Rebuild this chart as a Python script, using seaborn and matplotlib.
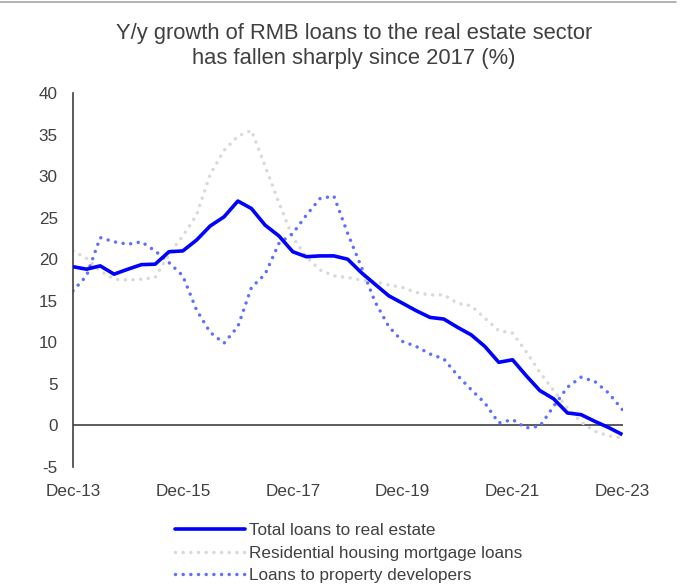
import matplotlib
matplotlib.use("Agg")
import matplotlib.pyplot as plt
import matplotlib.dates as mdates
from matplotlib.lines import Line2D
import pandas as pd
import seaborn as sns

# Quarter-end dates, Dec-2013 to Dec-2023
quarters = pd.date_range("2013-12-31", periods=41, freq="QE")

# Y/y growth (%)
total_loans = [19.1, 18.8, 19.2, 18.2, 18.8, 19.35, 19.4, 20.9, 21.0, 22.3,
               24.0, 25.1, 27.0, 26.1, 24.1, 22.8, 20.9, 20.3, 20.4, 20.4,
               20.0, 18.4, 17.0, 15.6, 14.7, 13.8, 13.0, 12.8, 11.8, 10.9,
               9.5, 7.6, 7.9, 6.0, 4.2, 3.2, 1.5, 1.3, 0.5, -0.25, -1.1]
mortgage_loans = [21.0, 20.1, 18.6, 17.6, 17.5, 17.6, 17.8, 20.6, 22.8, 25.3,
                  30.2, 33.1, 34.8, 35.5, 31.2, 26.8, 22.6, 20.3, 18.7, 18.0,
                  17.8, 17.5, 17.3, 16.9, 16.6, 16.0, 15.7, 15.7, 14.7, 14.4,
                  12.9, 11.4, 11.1, 8.9, 6.4, 4.2, 2.1, 0.4, -0.7, -1.25, -1.5]
developer_loans = [16.2, 18.0, 22.6, 22.1, 21.8, 22.1, 21.0, 19.6, 18.0, 13.9,
                   11.2, 9.9, 11.9, 16.6, 18.2, 21.9, 23.1, 25.3, 27.3, 27.6,
                   23.1, 19.1, 14.9, 11.9, 10.1, 9.5, 8.6, 8.0, 6.0, 4.3,
                   2.7, 0.3, 0.7, -0.3, -0.1, 2.3, 4.6, 5.8, 5.3, 3.9, 1.9]

series_names = ["Total loans to real estate",
                "Residential housing mortgage loans",
                "Loans to property developers"]

tick_years = [2013, 2015, 2017, 2019, 2021, 2023]
y_ticks = [-5, 0, 5, 10, 15, 20, 25, 30, 35, 40]

sns.set_theme(style="white")
plt.rcParams["font.family"] = ["Liberation Sans", "DejaVu Sans"]
plt.rcParams["axes.unicode_minus"] = False
text_color = "#404040"

fig = plt.figure(figsize=(6.85, 5.85), dpi=100)
ax = fig.add_axes([73 / 685, 118 / 585, 550 / 685, 374 / 585])

styles = [
    dict(color="#0000FF", lw=2.6, dotted=False),
    dict(color="#D9D9D9", lw=2.5, dotted=True),
    dict(color="#5F6FFF", lw=2.5, dotted=True),
]
values = [total_loans, mortgage_loans, developer_loans]
dot_pattern = (0, (0.01, 2.2))

# draw the dotted series first so the solid total sits on top
for idx in [1, 2, 0]:
    st = styles[idx]
    sns.lineplot(x=quarters, y=values[idx], ax=ax, color=st["color"],
                 linewidth=st["lw"], zorder=3 if idx == 0 else 2)
    line = ax.get_lines()[-1]
    if st["dotted"]:
        line.set_linestyle(dot_pattern)
        line.set_dash_capstyle("round")
    else:
        line.set_solid_capstyle("butt")
        line.set_solid_joinstyle("round")

handles = []
for idx, name in enumerate(series_names):
    st = styles[idx]
    h = Line2D([], [], color=st["color"], lw=st["lw"], label=name)
    if st["dotted"]:
        h.set_linestyle(dot_pattern)
        h.set_dash_capstyle("round")
    handles.append(h)

ax.axhline(0, color="#404040", lw=1.2, zorder=1)

ax.set_ylim(-5, 40)
ax.set_yticks(y_ticks)
ax.set_xlim(quarters[0], quarters[-1] + pd.Timedelta(days=4))
ax.set_xticks([pd.Timestamp(f"{y}-12-31") for y in tick_years])
ax.xaxis.set_major_formatter(mdates.DateFormatter("%b-%y"))
ax.tick_params(axis="both", length=0, labelsize=12.3, colors=text_color)
ax.tick_params(axis="x", pad=12)
ax.tick_params(axis="y", pad=11)
ax.set_xlabel("")
ax.set_ylabel("")

for side in ["top", "right", "bottom"]:
    ax.spines[side].set_visible(False)
ax.spines["left"].set_color("#404040")
ax.spines["left"].set_linewidth(1.2)
ax.grid(False)

fig.text(354 / 685, 1 - 46 / 585,
         "Y/y growth of RMB loans to the real estate sector\n"
         "has fallen sharply since 2017 (%)",
         ha="center", va="center", fontsize=15.8, color=text_color,
         linespacing=1.2)

fig.legend(handles=handles, loc="upper left",
           bbox_to_anchor=(175 / 685, 1 - 523 / 585),
           frameon=False, fontsize=12.3, handlelength=4.1,
           handletextpad=0.25, labelspacing=0.45, borderpad=0,
           borderaxespad=0, labelcolor=text_color)

fig.add_artist(Line2D([0, 0.987], [1 - 1.5 / 585, 1 - 1.5 / 585],
                      transform=fig.transFigure, color="#A6A6A6", lw=1.2))

fig.savefig("out.png", dpi=100)
